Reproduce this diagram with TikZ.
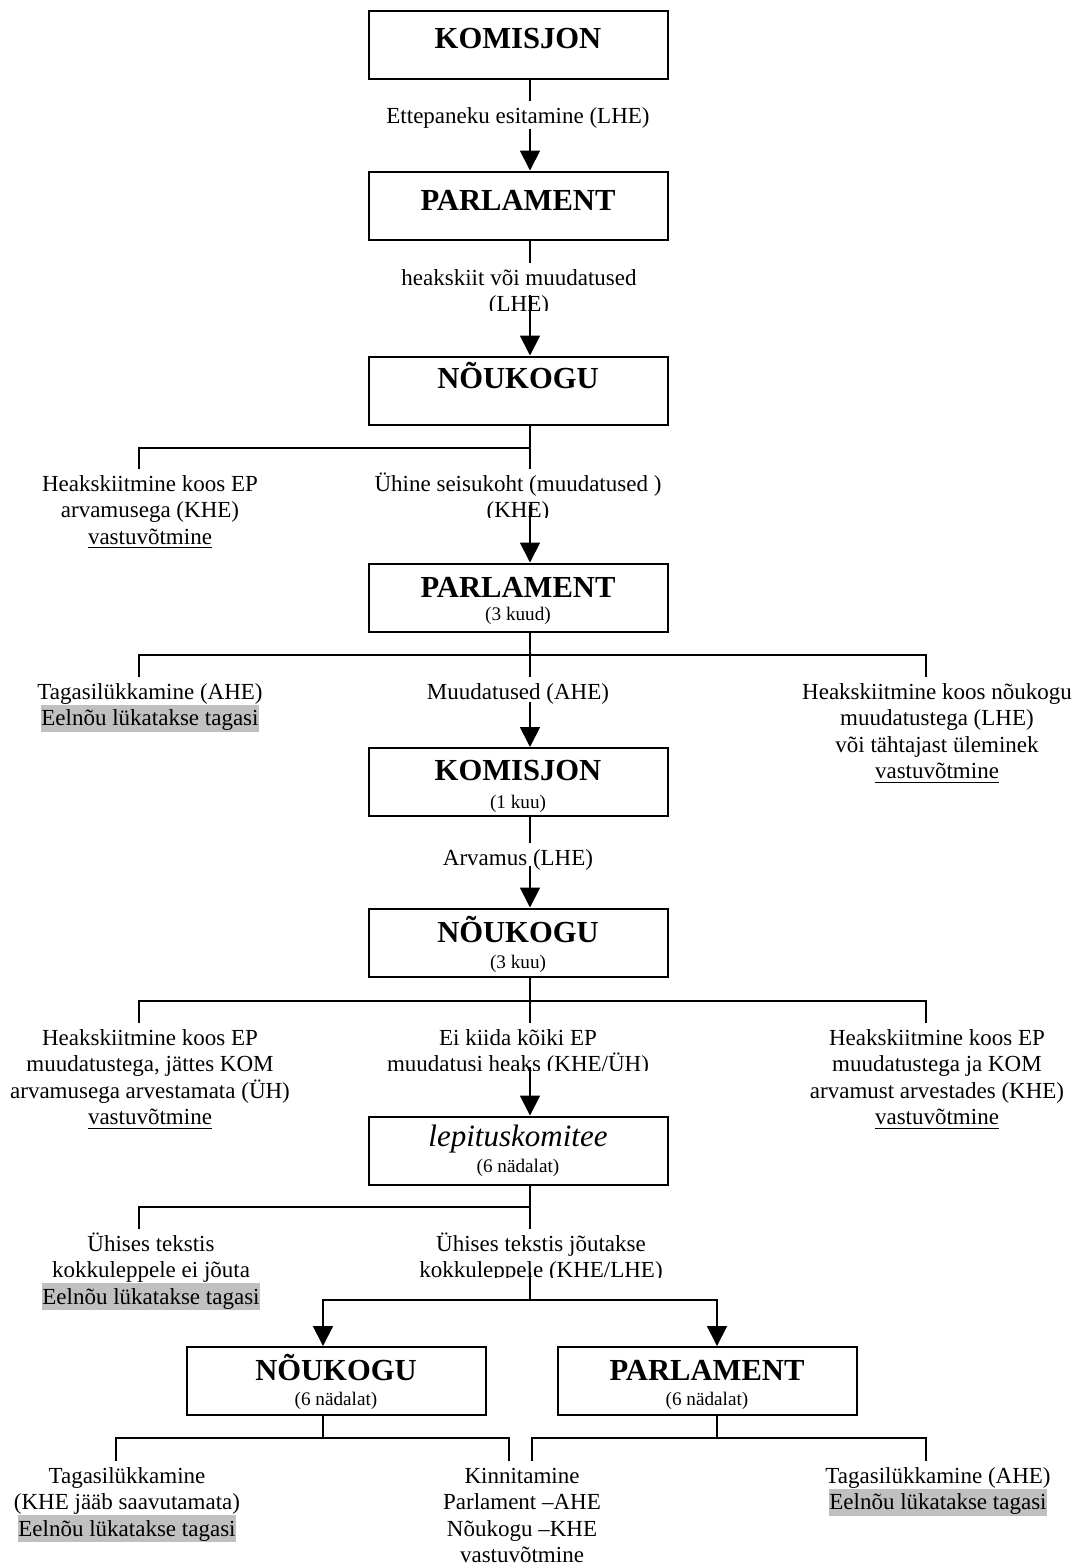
\documentclass[tikz,border=0pt]{standalone}
\usepackage{fontspec}
\setmainfont{Liberation Serif}
\usetikzlibrary{arrows.meta}
\definecolor{hlgray}{RGB}{192,192,192}
\newcommand{\hlt}[1]{{\setlength{\fboxsep}{0pt}\colorbox{hlgray}{\rule[-3pt]{0pt}{13.5pt}#1}}}
\newcommand{\fst}{\rule{0pt}{11pt}}
\tikzset{
  ln/.style={line width=0.9pt},
  arr/.style={-{Triangle[length=10pt,width=10pt]}},
  box/.style={draw, line width=1pt, minimum width=149.5pt, minimum height=34pt, inner sep=0pt},
  head/.style={font=\fontsize{15.3}{18}\selectfont\bfseries, anchor=base, inner sep=0pt},
  headit/.style={font=\fontsize{15.5}{18}\selectfont\itshape, anchor=base, inner sep=0pt},
  subt/.style={font=\fontsize{9.6}{11}\selectfont, anchor=base, inner sep=0pt},
  lab/.style={font=\fontsize{11.5}{13.25}\selectfont, align=center, anchor=north, inner sep=0pt},
}
\begin{document}
\begin{tikzpicture}[x=0.5pt,y=-0.5pt]
\useasboundingbox (0,0) rectangle (1076,1564);

% axes and levels
\coordinate (ax) at (530,0);
\coordinate (axL) at (139,0);
\coordinate (axR) at (926,0);
\coordinate (axNB) at (323,0);
\coordinate (axPB) at (717,0);
\coordinate (axBL) at (116,0);
\coordinate (axBCa) at (509,0);
\coordinate (axBCb) at (532,0);
\coordinate (h3) at (0,448);
\coordinate (h4) at (0,655);
\coordinate (h6) at (0,1001);
\coordinate (h7) at (0,1207);
\coordinate (h8) at (0,1300);
\coordinate (h9) at (0,1438);
\coordinate (a2) at (530,295);
\coordinate (a3) at (530,505);
\coordinate (a4) at (530,702);
\coordinate (a5) at (530,866);
\coordinate (a6) at (530,1067);
\coordinate (a7) at (530,1272);

% boxes
\node[box] (k1) at (518,44.5) {};
\node[head] (k1t) at (518,48) {KOMISJON};
\node[box] (p1) at (518,205.5) {};
\node[head] (p1t) at (518,210) {PARLAMENT};
\node[box] (n1) at (518,390.5) {};
\node[head] (n1t) at (518,388) {NÕUKOGU};
\node[box] (p2) at (518,597.5) {};
\node[head] (p2t) at (518,597) {PARLAMENT};
\node[subt] (p2s) at (518,620) {(3 kuud)};
\node[box] (k2) at (518,782) {};
\node[head] (k2t) at (518,780) {KOMISJON};
\node[subt] (k2s) at (518,808) {(1 kuu)};
\node[box] (n2) at (518,942.5) {};
\node[head] (n2t) at (518,942) {NÕUKOGU};
\node[subt] (n2s) at (518,968) {(3 kuu)};
\node[box] (lk) at (518,1150.5) {};
\node[headit] (lkt) at (518,1146) {lepituskomitee};
\node[subt] (lks) at (518,1172) {(6 nädalat)};
\node[box] (nb) at (336,1381) {};
\node[head] (nbt) at (336,1380) {NÕUKOGU};
\node[subt] (nbs) at (336,1405) {(6 nädalat)};
\node[box] (pb) at (707,1381) {};
\node[head] (pbt) at (707,1380) {PARLAMENT};
\node[subt] (pbs) at (707,1405) {(6 nädalat)};

% labels
\node[lab] (l1) at (518,101) {\fst Ettepaneku esitamine (LHE)};
\begin{scope}
  \clip (380,250) rectangle (660,310);
  \node[lab] (l2) at (519,263) {\fst heakskiit või muudatused\\(LHE)};
\end{scope}
\node[lab] (r3l) at (150,469) {\fst Heakskiitmine koos EP\\arvamusega (KHE)\\\underline{vastuvõtmine}};
\begin{scope}
  \clip (360,460) rectangle (680,517);
  \node[lab] (r3c) at (518,469) {\fst Ühine seisukoht (muudatused )\\(KHE)};
\end{scope}
\node[lab] (r4l) at (150,677) {\fst Tagasilükkamine (AHE)\\\hlt{Eelnõu lükatakse tagasi}};
\node[lab] (r4c) at (518,677) {\fst Muudatused (AHE)};
\node[lab] (r4r) at (937,677) {\fst Heakskiitmine koos nõukogu\\muudatustega (LHE)\\või tähtajast üleminek\\\underline{vastuvõtmine}};
\node[lab] (l5) at (518,843) {\fst Arvamus (LHE)};
\node[lab] (r6l) at (150,1023) {\fst Heakskiitmine koos EP\\muudatustega, jättes KOM\\arvamusega arvestamata (ÜH)\\\underline{vastuvõtmine}};
\begin{scope}
  \clip (380,1010) rectangle (660,1070);
  \node[lab] (r6c) at (518,1023) {\fst Ei kiida kõiki EP\\muudatusi heaks (KHE/ÜH)};
\end{scope}
\node[lab] (r6r) at (937,1023) {\fst Heakskiitmine koos EP\\muudatustega ja KOM\\arvamust arvestades (KHE)\\\underline{vastuvõtmine}};
\node[lab] (r7l) at (151,1229) {\fst Ühises tekstis\\kokkuleppele ei jõuta\\\hlt{Eelnõu lükatakse tagasi}};
\begin{scope}
  \clip (390,1215) rectangle (690,1277);
  \node[lab] (r7c) at (541,1229) {\fst Ühises tekstis jõutakse\\kokkuleppele (KHE/LHE)};
\end{scope}
\node[lab] (bl) at (127,1461) {\fst Tagasilükkamine\\(KHE jääb saavutamata)\\\hlt{Eelnõu lükatakse tagasi}};
\node[lab] (bc) at (522,1461) {\fst Kinnitamine\\Parlament –AHE\\Nõukogu –KHE\\vastuvõtmine};
\node[lab] (br) at (938,1461) {\fst Tagasilükkamine (AHE)\\\hlt{Eelnõu lükatakse tagasi}};

% connectors
\draw[ln] (k1.south -| ax) -- (l1.north -| ax);
\draw[ln,arr] (l1.south -| ax) -- (p1.north -| ax);
\draw[ln] (p1.south -| ax) -- (l2.north -| ax);
\draw[ln,arr] (a2) -- (n1.north -| ax);
\draw[ln] (n1.south -| ax) -- (r3c.north -| ax);
\draw[ln] (ax |- h3) -| (r3l.north -| axL);
\draw[ln,arr] (a3) -- (p2.north -| ax);
\draw[ln] (p2.south -| ax) -- (r4c.north -| ax);
\draw[ln] (r4l.north -| axL) |- (axR |- h4) -- (r4r.north -| axR);
\draw[ln,arr] (a4) -- (k2.north -| ax);
\draw[ln] (k2.south -| ax) -- (l5.north -| ax);
\draw[ln,arr] (a5) -- (n2.north -| ax);
\draw[ln] (n2.south -| ax) -- (r6c.north -| ax);
\draw[ln] (r6l.north -| axL) |- (axR |- h6) -- (r6r.north -| axR);
\draw[ln,arr] (a6) -- (lk.north -| ax);
\draw[ln] (lk.south -| ax) -- (r7c.north -| ax);
\draw[ln] (ax |- h7) -| (r7l.north -| axL);
\draw[ln] (a7) -- (ax |- h8);
\draw[ln,arr] (ax |- h8) -| (nb.north -| axNB);
\draw[ln,arr] (ax |- h8) -| (pb.north -| axPB);
\draw[ln] (nb.south -| axNB) -- (axNB |- h9);
\draw[ln] (bl.north -| axBL) |- (axBCa |- h9) -- (bc.north -| axBCa);
\draw[ln] (pb.south -| axPB) -- (axPB |- h9);
\draw[ln] (bc.north -| axBCb) |- (axR |- h9) -- (br.north -| axR);
\end{tikzpicture}
\end{document}
